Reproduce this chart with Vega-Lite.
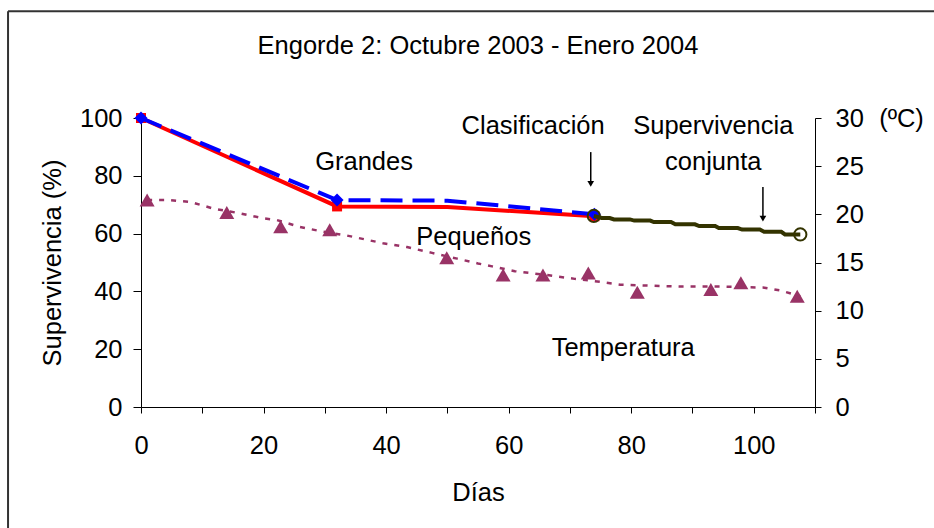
{
  "$schema": "https://vega.github.io/schema/vega-lite/v6.json",
  "width": 674,
  "height": 289,
  "autosize": {"type": "none"},
  "padding": {"left": 141, "top": 118, "right": 119, "bottom": 121},
  "background": "white",
  "title": {"text": "Engorde 2: Octubre 2003 - Enero 2004", "fontSize": 25.5, "font": "Liberation Sans", "fontWeight": "normal", "color": "black", "anchor": "middle", "frame": "group", "offset": -49},
  "config": {
    "view": {"stroke": null},
    "font": "Liberation Sans",
    "axis": {"grid": false, "domainColor": "black", "tickColor": "black", "labelColor": "black", "labelFontSize": 25.5, "labelFont": "Liberation Sans", "titleFontSize": 25.5, "titleFont": "Liberation Sans", "titleFontWeight": "normal", "titleColor": "black", "domainWidth": 1, "tickWidth": 1, "labelFlush": false}
  },
  "datasets": {
    "rojo": [
      {"dia": 0, "sup": 100}, {"dia": 32, "sup": 69.4}, {"dia": 50, "sup": 69.2}, {"dia": 74, "sup": 66.0}
    ],
    "azul": [
      {"dia": 0, "sup": 100}, {"dia": 32, "sup": 71.6}, {"dia": 50, "sup": 71.4}, {"dia": 74, "sup": 66.7}
    ],
    "conjunta": [
      {"dia": 73.9, "sup": 66.1}, {"dia": 75.2, "sup": 65.4}, {"dia": 76.5, "sup": 65.4}, {"dia": 77.2, "sup": 64.9},
      {"dia": 79.8, "sup": 64.9}, {"dia": 80.5, "sup": 64.5}, {"dia": 83.1, "sup": 64.5}, {"dia": 83.7, "sup": 64.0},
      {"dia": 86.5, "sup": 64.0}, {"dia": 87.2, "sup": 63.2}, {"dia": 90.4, "sup": 63.2}, {"dia": 91.1, "sup": 62.6},
      {"dia": 93.7, "sup": 62.6}, {"dia": 94.3, "sup": 61.9}, {"dia": 97.4, "sup": 61.9}, {"dia": 98.1, "sup": 61.4},
      {"dia": 101.0, "sup": 61.4}, {"dia": 101.7, "sup": 60.6}, {"dia": 104.5, "sup": 60.6}, {"dia": 105.1, "sup": 59.7},
      {"dia": 107.6, "sup": 59.7}
    ],
    "temp": [
      {"dia": 1.0, "temp": 21.5}, {"dia": 14.0, "temp": 20.2}, {"dia": 22.8, "temp": 18.7}, {"dia": 30.8, "temp": 18.4},
      {"dia": 49.9, "temp": 15.5}, {"dia": 59.1, "temp": 13.7}, {"dia": 65.6, "temp": 13.7}, {"dia": 73.0, "temp": 13.9},
      {"dia": 81.0, "temp": 11.9}, {"dia": 93.0, "temp": 12.2}, {"dia": 97.9, "temp": 12.9}, {"dia": 107.1, "temp": 11.5}
    ],
    "tendencia": [
      {"dia": 1.0, "temp": 21.5}, {"dia": 4.2, "temp": 21.5}, {"dia": 8.0, "temp": 21.3}, {"dia": 11.8, "temp": 20.6},
      {"dia": 16.2, "temp": 20.1}, {"dia": 19.9, "temp": 19.6}, {"dia": 22.2, "temp": 19.4}, {"dia": 25.9, "temp": 18.7},
      {"dia": 29.7, "temp": 18.2}, {"dia": 33.6, "temp": 17.8}, {"dia": 39.5, "temp": 17.0}, {"dia": 43.4, "temp": 16.6},
      {"dia": 47.5, "temp": 16.0}, {"dia": 51.6, "temp": 15.4}, {"dia": 55.0, "temp": 14.9}, {"dia": 57.3, "temp": 14.6},
      {"dia": 61.0, "temp": 14.1}, {"dia": 66.2, "temp": 13.7}, {"dia": 70.8, "temp": 13.3}, {"dia": 74.9, "temp": 13.0},
      {"dia": 78.2, "temp": 12.7}, {"dia": 88.0, "temp": 12.5}, {"dia": 94.5, "temp": 12.5}, {"dia": 101.5, "temp": 12.4},
      {"dia": 104.3, "temp": 12.1}, {"dia": 107.6, "temp": 11.5}
    ],
    "etiquetas": [
      {"texto": "Grandes", "dia": 36.4, "sup": 84.7},
      {"texto": "Clasificación", "dia": 64.0, "sup": 97.1},
      {"texto": "Supervivencia", "dia": 93.4, "sup": 97.1},
      {"texto": "conjunta", "dia": 93.4, "sup": 84.7},
      {"texto": "Pequeños", "dia": 54.3, "sup": 58.7},
      {"texto": "Temperatura", "dia": 78.7, "sup": 20.3}
    ],
    "flechas": [
      {"dia": 73.4, "desde": 88.2, "hasta": 77.5, "punta": 77.2},
      {"dia": 101.5, "desde": 76.1, "hasta": 65.5, "punta": 65.2}
    ]
  },
  "layer": [
    {
      "layer": [
        {
          "data": {"values": [{}]},
          "mark": {"type": "rule", "color": "#333333", "strokeWidth": 2},
          "encoding": {
            "x": {"datum": -21.7, "type": "quantitative", "scale": {"domain": [0, 110], "nice": false}},
            "x2": {"datum": 140},
            "y": {"datum": 136.9, "type": "quantitative", "scale": {"domain": [0, 100], "nice": false}}
          }
        },
        {
          "data": {"values": [{}]},
          "mark": {"type": "rule", "color": "#333333", "strokeWidth": 2},
          "encoding": {
            "x": {"datum": -21.7, "type": "quantitative", "scale": {"domain": [0, 110], "nice": false}},
            "y": {"datum": 136.9, "type": "quantitative", "scale": {"domain": [0, 100], "nice": false}},
            "y2": {"datum": -60}
          }
        },
        {
          "data": {"name": "rojo"},
          "mark": {"type": "line", "color": "#FF0000", "strokeWidth": 4},
          "encoding": {
            "x": {"field": "dia", "type": "quantitative", "scale": {"domain": [0, 110], "nice": false},
              "axis": {"values": [0, 10, 20, 30, 40, 50, 60, 70, 80, 90, 100, 110], "labelExpr": "datum.value % 20 == 0 ? datum.label : ''", "tickSize": 6, "labelPadding": 20, "title": "Días", "titleY": 85, "titleBaseline": "middle"}},
            "y": {"field": "sup", "type": "quantitative", "scale": {"domain": [0, 100], "nice": false},
              "axis": {"values": [0, 20, 40, 60, 80, 100], "tickSize": 8, "labelPadding": 11, "title": "Supervivencia (%)", "titleX": -89, "titleY": 144.5, "titleAngle": -90, "titleBaseline": "middle", "titleAlign": "center"}}
          }
        },
        {
          "data": {"name": "rojo"},
          "transform": [{"filter": "datum.dia != 50"}],
          "mark": {"type": "point", "shape": "square", "filled": true, "color": "#FF0000", "size": 100, "opacity": 1},
          "encoding": {
            "x": {"field": "dia", "type": "quantitative"},
            "y": {"field": "sup", "type": "quantitative"}
          }
        },
        {
          "data": {"name": "azul"},
          "mark": {"type": "line", "color": "#0000FF", "strokeWidth": 4, "strokeDash": [22, 10]},
          "encoding": {
            "x": {"field": "dia", "type": "quantitative"},
            "y": {"field": "sup", "type": "quantitative"}
          }
        },
        {
          "data": {"name": "azul"},
          "transform": [{"filter": "datum.dia != 50"}],
          "mark": {"type": "point", "shape": "diamond", "filled": true, "color": "#0000FF", "size": 170, "opacity": 1},
          "encoding": {
            "x": {"field": "dia", "type": "quantitative"},
            "y": {"field": "sup", "type": "quantitative"}
          }
        },
        {
          "data": {"name": "conjunta"},
          "mark": {"type": "line", "color": "#333300", "strokeWidth": 4},
          "encoding": {
            "x": {"field": "dia", "type": "quantitative"},
            "y": {"field": "sup", "type": "quantitative"}
          }
        },
        {
          "data": {"name": "conjunta"},
          "transform": [{"filter": "datum.dia < 74 || datum.dia > 107"}],
          "mark": {"type": "point", "shape": "circle", "filled": false, "stroke": "#333300", "strokeWidth": 2, "size": 150, "opacity": 1},
          "encoding": {
            "x": {"field": "dia", "type": "quantitative"},
            "y": {"field": "sup", "type": "quantitative"}
          }
        },
        {
          "data": {"name": "flechas"},
          "mark": {"type": "rule", "color": "black", "strokeWidth": 1.5},
          "encoding": {
            "x": {"field": "dia", "type": "quantitative"},
            "y": {"field": "desde", "type": "quantitative"},
            "y2": {"field": "hasta"}
          }
        },
        {
          "data": {"name": "flechas"},
          "mark": {"type": "point", "shape": "triangle-down", "filled": true, "color": "black", "size": 45, "opacity": 1},
          "encoding": {
            "x": {"field": "dia", "type": "quantitative"},
            "y": {"field": "punta", "type": "quantitative"}
          }
        },
        {
          "data": {"name": "etiquetas"},
          "mark": {"type": "text", "fontSize": 25.5, "font": "Liberation Sans", "color": "black", "align": "center", "baseline": "middle"},
          "encoding": {
            "x": {"field": "dia", "type": "quantitative"},
            "y": {"field": "sup", "type": "quantitative"},
            "text": {"field": "texto"}
          }
        }
      ]
    },
    {
      "layer": [
        {
          "data": {"name": "tendencia"},
          "mark": {"type": "line", "color": "#993366", "strokeWidth": 2.5, "strokeDash": [5, 7]},
          "encoding": {
            "x": {"field": "dia", "type": "quantitative"},
            "y": {"field": "temp", "type": "quantitative", "scale": {"domain": [0, 30], "nice": false},
              "axis": {"orient": "right", "values": [0, 5, 10, 15, 20, 25, 30], "tickSize": 6, "labelPadding": 14, "title": "(ºC)", "titleAngle": 0, "titleX": 86, "titleY": 0, "titleBaseline": "middle", "titleAlign": "center"}}
          }
        },
        {
          "data": {"name": "temp"},
          "mark": {"type": "point", "shape": "triangle-up", "filled": true, "color": "#993366", "size": 225, "opacity": 1},
          "encoding": {
            "x": {"field": "dia", "type": "quantitative"},
            "y": {"field": "temp", "type": "quantitative"}
          }
        }
      ]
    }
  ],
  "resolve": {"scale": {"y": "independent"}, "axis": {"y": "independent"}}
}
